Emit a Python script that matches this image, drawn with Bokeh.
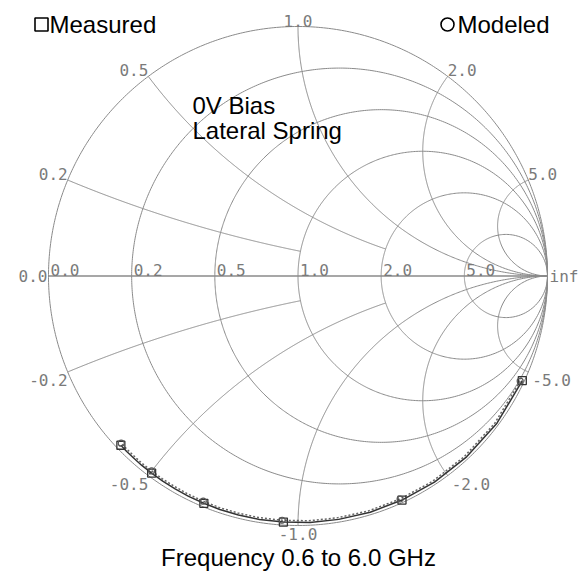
import numpy as np
from bokeh.plotting import figure
from bokeh.models import Range1d, Label
from bokeh.embed import file_html
from bokeh.resources import INLINE

# ---------------- data ----------------
r_values = [0.0, 0.2, 0.5, 1.0, 2.0, 5.0]
r_labels = ["0.0", "0.2", "0.5", "1.0", "2.0", "5.0"]
x_values = [0.2, 0.5, 1.0, 2.0, 5.0]
x_pos_labels = ["0.2", "0.5", "1.0", "2.0", "5.0"]
x_neg_labels = ["-0.2", "-0.5", "-1.0", "-2.0", "-5.0"]
x_arc_end_r = [1.0, 2.0, np.inf, np.inf, np.inf]   # how far each reactance arc runs

freq_ghz = [0.6, 0.87, 1.14, 1.41, 1.68, 1.95, 2.22, 2.49, 2.76, 3.03, 3.3,
            3.57, 3.84, 4.11, 4.38, 4.65, 4.92, 5.19, 5.46, 5.73, 6.0]
meas_mag = [0.992, 0.992, 0.991, 0.991, 0.990, 0.990, 0.989, 0.989, 0.988, 0.988, 0.987,
            0.987, 0.986, 0.986, 0.985, 0.985, 0.984, 0.984, 0.983, 0.983, 0.982]
meas_phase = [-25.0, -36.5, -47.0, -56.5, -65.1, -73.0, -80.5, -87.2, -93.4, -99.0, -104.0,
              -108.5, -112.5, -116.4, -120.0, -123.4, -126.6, -129.5, -132.0, -134.3, -136.3]
model_mag = [0.985, 0.985, 0.984, 0.984, 0.983, 0.983, 0.982, 0.982, 0.981, 0.981, 0.980,
             0.980, 0.979, 0.979, 0.978, 0.978, 0.977, 0.977, 0.976, 0.976, 0.975]
model_phase = [-25.3, -36.8, -47.3, -56.8, -65.4, -73.3, -80.8, -87.5, -93.7, -99.3, -104.3,
               -108.8, -112.8, -116.7, -120.3, -123.7, -126.9, -129.8, -132.3, -134.6, -136.6]
marker_idx = [0, 4, 8, 12, 16, 20]

# ---------------- layout ----------------
W, H = 584, 572
OFF = 0                               # page offset of the figure
CX, CY, R = 297.5, 275.5, 249.5      # page pixel position of chart centre, radius

def pg(X, Y):
    return (X - CX) / R, (CY - Y) / R

p = figure(width=W, height=H, output_backend="svg", toolbar_location=None,
           x_range=Range1d((OFF - CX) / R, (OFF + W - CX) / R),
           y_range=Range1d((CY - OFF - H) / R, (CY - OFF) / R),
           min_border=0, border_fill_color="white", background_fill_color="white")
p.axis.visible = False
p.grid.visible = False
p.outline_line_color = None

GRID = "#8a8a8a"

def gam(z):
    return (z - 1) / (z + 1)

# outer circle and resistance circles
xs, ys = [], []
t = np.linspace(-np.pi / 2 + 1e-4, np.pi / 2 - 1e-4, 600)
for r in r_values:
    g = gam(r + 1j * np.tan(t))
    xs.append(list(g.real)); ys.append(list(g.imag))
# reactance arcs
for xv, rend in zip(x_values, x_arc_end_r):
    tmax = np.pi / 2 - 1e-4 if np.isinf(rend) else np.arctan(rend)
    rr = np.tan(np.linspace(0, tmax, 400))
    for s in (1, -1):
        g = gam(rr + 1j * s * xv)
        xs.append(list(g.real)); ys.append(list(g.imag))
p.multi_line(xs, ys, line_color=GRID, line_width=1)
p.line([-1, 1], [0, 0], line_color=GRID, line_width=1.3)

# grid labels
LF = "DejaVu Sans Mono"
LS = "16px"
LC = "#7a7a7a"
def lab(x, y, text, align, base, dx=0, dy=0):
    p.add_layout(Label(x=x, y=y, text=text, text_align=align, text_baseline=base,
                       x_offset=dx, y_offset=dy, text_font=LF, text_font_size=LS,
                       text_color=LC))

for r, tx in zip(r_values, r_labels):
    lab((r - 1) / (r + 1), 0, tx, "left", "bottom", 2, 0)
lab(-1, 0, "0.0", "right", "middle", -1, 0)
lab(1, 0, "inf", "left", "middle", 2, 0)
for xv, tp, tn in zip(x_values, x_pos_labels, x_neg_labels):
    g = gam(1j * xv)
    if xv < 1:
        a = "right"; dxp = 0; dxn = 0
    elif xv == 1:
        a = "center"; dxp = 0; dxn = 0
    else:
        a = "left"; dxp = 0; dxn = 4
    lab(g.real, g.imag, tp, a, "bottom", dxp, 0)
    lab(g.real, -g.imag, tn, a, "top", dxn, -2)

# traces
mg = np.array(meas_mag) * np.exp(1j * np.deg2rad(meas_phase))
md = np.array(model_mag) * np.exp(1j * np.deg2rad(model_phase))
p.line(mg.real, mg.imag, line_color="#333333", line_width=1.5)
p.line(md.real, md.imag, line_color="#666666", line_width=1.5, line_dash="2 2")
p.scatter(mg.real[marker_idx], mg.imag[marker_idx], marker="square", size=8,
          fill_color=None, line_color="#333333", line_width=1.3)
p.scatter(md.real[marker_idx], md.imag[marker_idx], marker="circle", size=6,
          fill_color=None, line_color="#555555", line_width=1.2)

# annotations (Bokeh places the alphabetic line ~8px below y for 24px text)
TF = "Liberation Sans"
TS = "24px"
def note(X, Y, text, align="left"):
    x, y = pg(X, Y - 8)
    p.add_layout(Label(x=x, y=y, text=text, text_align=align, text_baseline="alphabetic",
                       text_font=TF, text_font_size=TS, text_color="black"))

lx, ly = pg(41, 24)
p.scatter([lx], [ly], marker="square", size=13, fill_color=None, line_color="black", line_width=1.6)
note(49, 32, "Measured")
cx2, cy2 = pg(447, 24)
p.scatter([cx2], [cy2], marker="circle", size=13, fill_color=None, line_color="black", line_width=1.6)
note(457, 32, "Modeled")
note(192, 113, "0V Bias")
note(192, 138, "Lateral Spring")
note(298, 565, "Frequency 0.6 to 6.0 GHz", "center")

open("out.html", "w").write(file_html(p, INLINE))
